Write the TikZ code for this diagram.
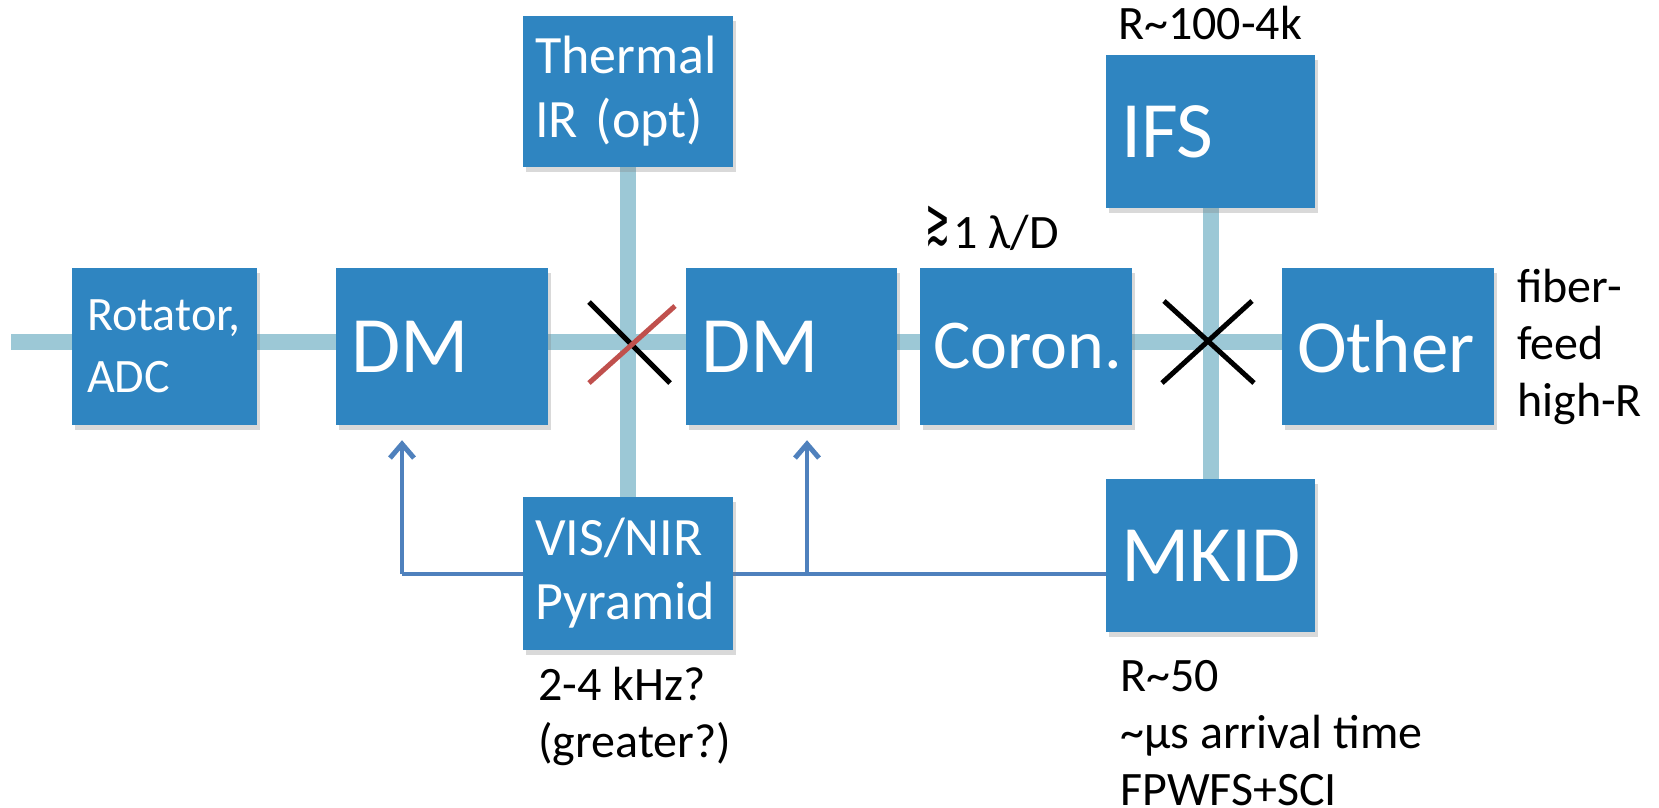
\documentclass[tikz,border=0pt]{standalone}
\usepackage{fontspec}
\setmainfont{Carlito}
\newfontfamily\symfnt{DejaVu Sans}
\usetikzlibrary{arrows.meta,shadows,backgrounds}
\definecolor{boxblue}{RGB}{47,133,193}
\definecolor{beam}{RGB}{156,200,214}
\definecolor{fb}{RGB}{79,129,189}
\definecolor{xred}{RGB}{192,80,77}
\newcommand{\stackl}[1]{\begin{tabular}[t]{@{}l@{}}#1\end{tabular}}
\begin{document}
\begin{tikzpicture}[x=1pt,y=-1pt,
  blk/.style={fill=boxblue, text=white, align=left, inner xsep=15pt, inner ysep=0pt,
    drop shadow={opacity=0.3, shadow xshift=3pt, shadow yshift=-5pt}},
  small/.style={font=\fontsize{54}{64}\selectfont},
  big/.style={font=\fontsize{80}{84}\selectfont},
  note/.style={font=\fontsize{48}{57}\selectfont, anchor=base west, inner sep=0pt},
  beamline/.style={draw=beam, line width=16pt},
  fbline/.style={draw=fb, line width=4.5pt},
  fbarrow/.style={fbline, -{Straight Barb[length=14pt,width=24pt,line width=5pt]}, shorten >=15pt},
  xmark/.style={line width=5pt}]
\useasboundingbox (0,0) rectangle (1659,808);

% boxes
\node[blk, font=\fontsize{48}{62}\selectfont, text width=155pt, minimum height=157pt] (rot) at (164.5,346.5) {Rotator,\\ADC};
\node[blk, big, text width=182pt, minimum height=157pt] (dm1) at (442,346.5) {DM};
\node[blk, small, inner xsep=12pt, text width=186pt, minimum height=151pt] (therm) at (628,91.5) {Thermal\\IR (opt)};
\node[blk, big, text width=181pt, minimum height=157pt] (dm2) at (791.5,346.5) {DM};
\node[blk, font=\fontsize{70}{74}\selectfont, inner xsep=13pt, text width=186pt, minimum height=157pt] (coron) at (1026,346.5) {Coron.};
\node[blk, font=\fontsize{75}{80}\selectfont, text width=182pt, minimum height=157pt] (other) at (1388,346.5) {Other};
\node[blk, big, text width=179pt, minimum height=153pt] (ifs) at (1210.5,131.5) {IFS};
\node[blk, big, text width=179pt, minimum height=153pt] (mkid) at (1210.5,555.5) {MKID};
\node[blk, small, inner xsep=12pt, text width=186pt, minimum height=153pt] (vis) at (628,573.5) {VIS/NIR\\Pyramid};

% coordinates
\coordinate (start) at (11,342);
\coordinate (x1) at (630,342);
\coordinate (x2) at (1208,342);
\coordinate (fbL) at (402,574);
\coordinate (fbM) at (807,574);

% beams and feedback lines
\begin{scope}[on background layer]
\draw[beamline] (start) -- (start -| other.west);
\draw[beamline] (therm.south) -- (vis.north);
\draw[beamline] (ifs.south) -- (mkid.north);
\draw[fbline] (vis.west |- fbL) -- (fbL);
\draw[fbarrow] (fbL) -- (fbL |- dm1.south);
\draw[fbline] (vis.east |- fbM) -- (mkid.west |- fbM);
\draw[fbarrow] (fbM) -- (fbM |- dm2.south);
\end{scope}

% pick-off marks
\draw[xmark, black] ([shift={(-41,-40)}]x1) -- ([shift={(40,41)}]x1);
\draw[xmark, xred] ([shift={(-41,41)}]x1) -- ([shift={(45,-36)}]x1);
\draw[xmark, black] ([shift={(-44,-41)}]x2) -- ([shift={(46,41)}]x2);
\draw[xmark, black] ([shift={(-46,41)}]x2) -- ([shift={(44,-41)}]x2);

% notes
\node[note] (n1) at (925,248) {\raisebox{4pt}{\symfnt\fontsize{66}{66}\selectfont\scalebox{0.45}[1]{≳}}\hspace{3pt}1 λ/D};
\node[note] (n2) at (1118,40) {R\textasciitilde100-4k};
\node[note] (n3) at (1517,302) {\stackl{fiber-\\feed\\high-R}};
\node[note] (n4) at (538,700) {\stackl{2-4 kHz?\\(greater?)}};
\node[note] (n5) at (1120,691) {\stackl{R\textasciitilde50\\\textasciitilde µs arrival time\\FPWFS+SCI}};
\end{tikzpicture}
\end{document}
